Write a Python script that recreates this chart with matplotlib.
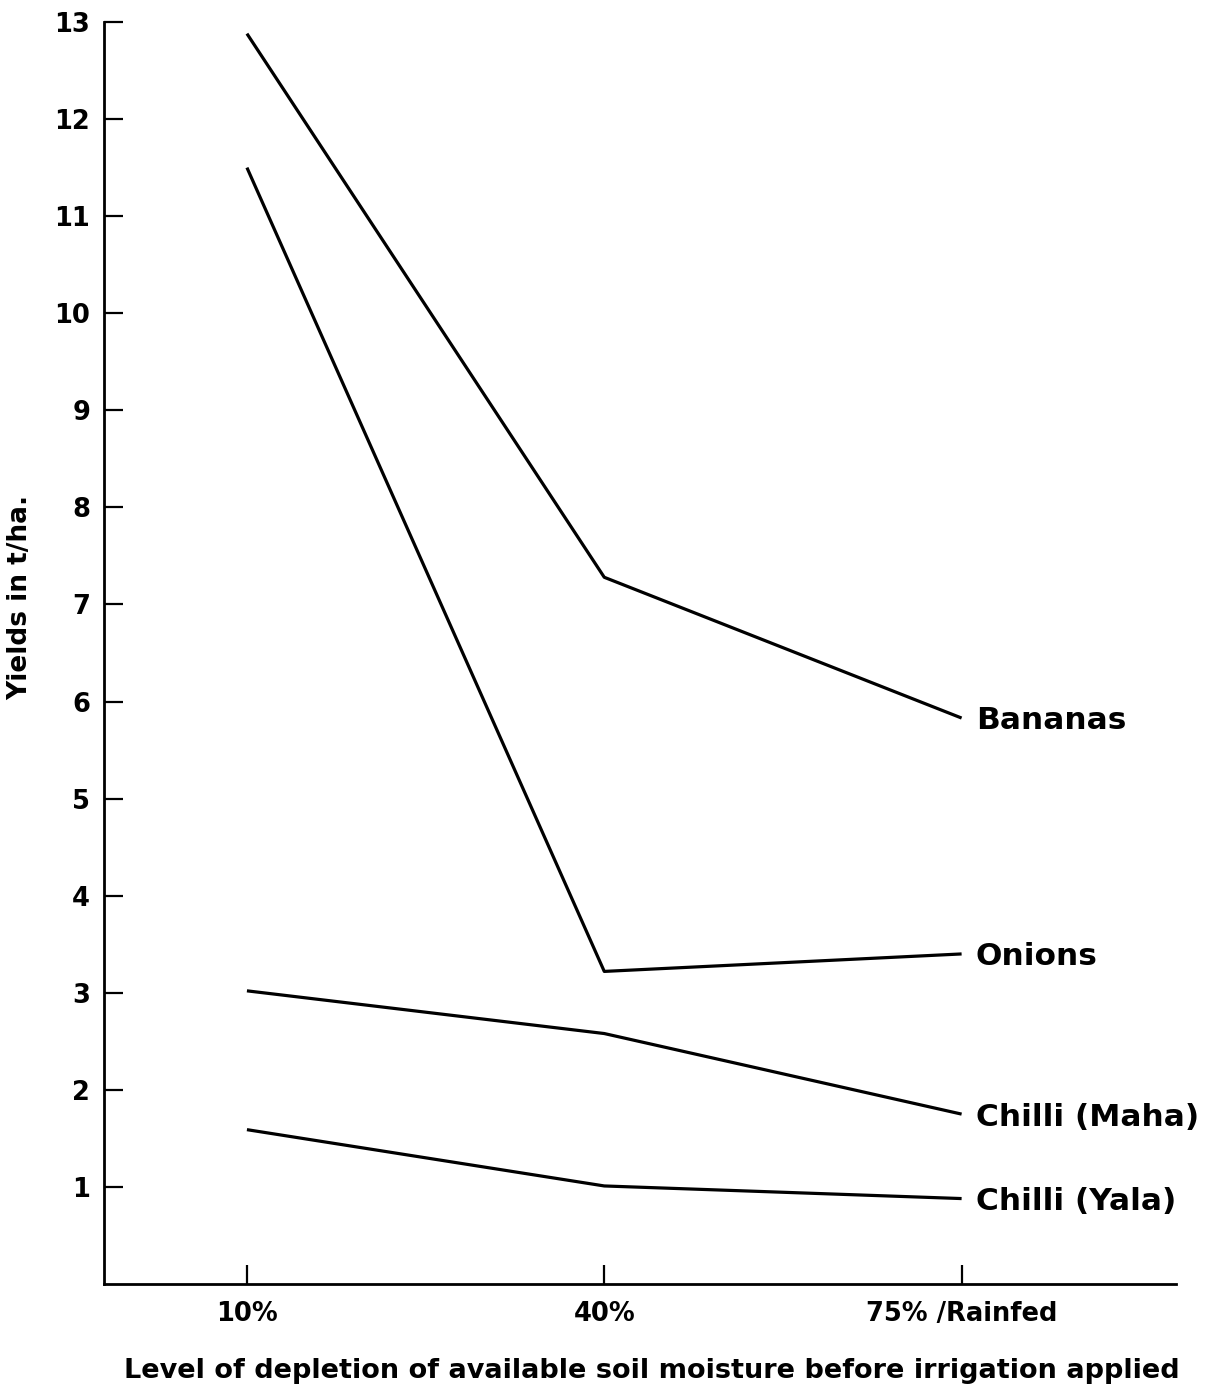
import matplotlib.pyplot as plt

# Werte
levels = ['10%', '40%', '75% /Rainfed']
crops = ['Bananas', 'Onions', 'Chilli (Maha)', 'Chilli (Yala)']
bananas = [12.88, 7.28, 5.83]
onions = [11.5, 3.22, 3.40]
chilli_maha = [3.02, 2.58, 1.75]
chilli_yala = [1.59, 1.01, 0.88]
yticks = list(range(1, 14))

plt.rcParams['font.family'] = ['DejaVu Sans']
plt.rcParams['font.weight'] = 'bold'
plt.rcParams['axes.labelweight'] = 'bold'

fig = plt.figure(figsize=(12.18, 13.91), dpi=100)
ax = fig.add_axes([104 / 1218, 107 / 1391, 1072 / 1218, 1262 / 1391])

x = range(len(levels))
for name, vals in zip(crops, [bananas, onions, chilli_maha, chilli_yala]):
    ax.plot(x, vals, color='black', lw=2.3, solid_capstyle='butt')
    ax.text(2.04, vals[-1] - 0.03, name, fontsize=22.5, fontweight='bold',
            va='center', ha='left')

ax.set_xlim(-0.4, 2.6)
ax.set_ylim(0, 13)
ax.set_xticks(list(x))
ax.set_xticklabels(levels, fontsize=18.5)
ax.set_yticks(yticks)
ax.set_yticklabels([str(t) for t in yticks], fontsize=18.5)
ax.tick_params(direction='in', length=14, width=1.6, pad=10)
ax.tick_params(axis='x', pad=12)

for s in ['top', 'right']:
    ax.spines[s].set_visible(False)
for s in ['left', 'bottom']:
    ax.spines[s].set_linewidth(2)

ax.set_ylabel('Yields in t/ha.', fontsize=19)
ax.yaxis.set_label_coords(-0.066, 0.544)
ax.set_xlabel('Level of depletion of available soil moisture before irrigation applied',
              fontsize=19.5)
ax.xaxis.set_label_coords(0.511, -0.059)

fig.savefig('out.png', dpi=100)
